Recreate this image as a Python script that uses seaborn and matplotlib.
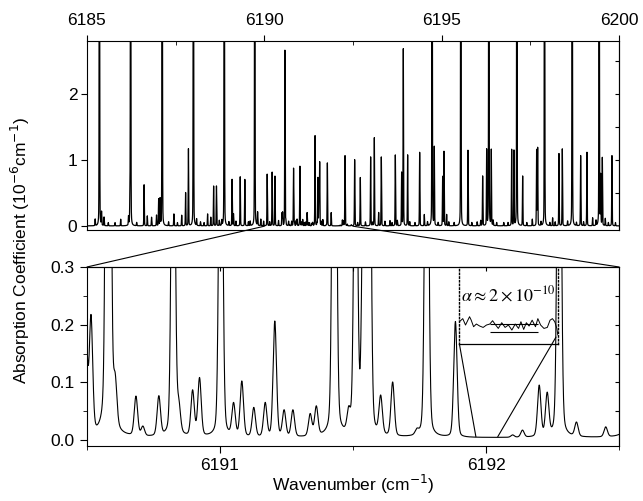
import numpy as np
import pandas as pd
import matplotlib
matplotlib.use("Agg")
import matplotlib.pyplot as plt
import seaborn as sns
from matplotlib.patches import ConnectionPatch
from matplotlib.ticker import MultipleLocator, FormatStrFormatter

sns.set_style("ticks")
plt.rcParams["font.family"] = ["Liberation Sans", "DejaVu Sans"]
plt.rcParams["axes.linewidth"] = 0.8
for key in ["text.color", "axes.labelcolor", "xtick.color", "ytick.color",
            "axes.edgecolor"]:
    plt.rcParams[key] = "black"

# ---- line list (positions in cm^-1, peak heights in 1e-6 cm^-1) ----
# strong band lines (saturate the upper panel)
strong_pos = [6185.35, 6186.23, 6187.12, 6188.00, 6188.87, 6189.73,
              6194.73, 6195.54, 6196.33, 6197.12, 6197.90, 6198.68, 6199.44]
strong_h = [8.0] * len(strong_pos)

# medium lines across the full scan
medium_pos = [6185.41, 6186.21, 6186.61, 6187.02, 6187.06, 6187.78, 6187.86,
              6188.57, 6188.65, 6189.09, 6189.32, 6189.45,
              6190.08, 6190.22, 6190.30, 6190.58, 6190.824, 6191.003,
              6191.43, 6191.51, 6191.54, 6191.56, 6191.777, 6192.275,
              6192.546, 6192.706, 6192.997, 6193.101, 6193.298, 6193.693,
              6193.871, 6193.918, 6194.040, 6194.379, 6194.792, 6195.027,
              6195.065, 6195.741, 6196.155, 6196.268, 6196.399, 6196.973,
              6197.038, 6197.283, 6197.677, 6197.706, 6198.307, 6198.401,
              6198.918, 6199.096, 6199.482, 6199.529, 6199.801]
medium_h = [0.20, 0.33, 0.62, 0.40, 0.40, 0.50, 1.16,
            0.60, 0.60, 0.70, 0.74, 0.70,
            0.78, 0.81, 0.75, 2.65, 0.87, 0.90,
            1.36, 0.72, 0.50, 0.95, 0.95, 1.06,
            1.00, 0.73, 1.04, 1.33, 1.04, 1.07,
            0.80, 2.67, 1.07, 1.11, 1.18, 0.74,
            1.12, 1.14, 0.75, 1.14, 1.14, 1.15,
            1.13, 0.75, 1.14, 1.17, 1.09, 1.16,
            1.06, 1.11, 0.74, 1.02, 1.06]

# weak lines
weak_pos = [6185.23, 6185.48, 6185.60, 6185.79, 6185.95, 6186.17, 6186.40,
            6186.70, 6186.82, 6186.96, 6187.30, 6187.45, 6187.55, 6187.67,
            6188.09, 6188.20, 6188.30, 6188.40, 6188.49, 6188.73, 6188.80,
            6189.00, 6189.13, 6189.20, 6189.55, 6189.60, 6189.81, 6189.90,
            6189.98, 6190.15, 6190.40,
            6190.495, 6190.515, 6190.606, 6190.684, 6190.710, 6190.770,
            6190.845, 6190.897, 6190.923, 6191.051, 6191.082, 6191.127,
            6191.170, 6191.206, 6191.241, 6191.274, 6191.339, 6191.362,
            6191.484, 6191.604, 6191.649, 6191.740, 6191.885, 6192.100,
            6192.137, 6192.200, 6192.230, 6192.340, 6192.450,
            6192.63, 6192.85, 6193.05, 6193.223, 6193.40, 6193.542, 6193.60,
            6193.75, 6194.10, 6194.247, 6194.510, 6194.60, 6194.90, 6195.140,
            6195.20, 6195.35, 6195.85, 6196.00, 6196.10, 6196.45, 6196.55,
            6196.75, 6196.87, 6197.40, 6197.555, 6197.80, 6198.05, 6198.128,
            6198.20, 6198.55, 6198.80, 6199.00, 6199.256, 6199.35, 6199.613,
            6199.70, 6199.90]
weak_h = [0.10, 0.13, 0.05, 0.05, 0.10, 0.13, 0.05,
          0.15, 0.13, 0.16, 0.06, 0.18, 0.05, 0.16,
          0.10, 0.06, 0.05, 0.18, 0.13, 0.08, 0.08,
          0.06, 0.18, 0.07, 0.06, 0.07, 0.20, 0.10,
          0.07, 0.06, 0.08,
          0.19, 0.20, 0.07, 0.068, 0.016, 0.068,
          0.045, 0.078, 0.10, 0.055, 0.095, 0.05,
          0.058, 0.20, 0.045, 0.046, 0.038, 0.05,
          0.035, 0.065, 0.093, 0.008, 0.20, 0.004,
          0.012, 0.088, 0.072, 0.024, 0.017,
          0.05, 0.06, 0.05, 0.20, 0.07, 0.08, 0.05,
          0.08, 0.06, 0.05, 0.17, 0.06, 0.05, 0.17,
          0.06, 0.05, 0.05, 0.06, 0.08, 0.08, 0.05,
          0.05, 0.05, 0.05, 0.10, 0.06, 0.05, 0.12,
          0.06, 0.07, 0.05, 0.06, 0.12, 0.08, 0.11,
          0.05, 0.05]

# residual baseline noise of the magnified segment (inset units)
noise_x = [0.0, 0.034, 0.062, 0.086, 0.103, 0.120, 0.144, 0.172, 0.206, 0.241,
           0.275, 0.309, 0.337, 0.361, 0.395, 0.430, 0.464, 0.498, 0.533, 0.567,
           0.601, 0.625, 0.653, 0.680, 0.708, 0.739, 0.773, 0.797, 0.825, 0.859,
           0.893, 0.921, 0.945, 0.969, 0.990, 1.0]
noise_y = [0.29, 0.33, 0.247, 0.31, 0.355, 0.31, 0.225, 0.26, 0.234, 0.216,
           0.247, 0.26, 0.303, 0.26, 0.203, 0.277, 0.216, 0.247, 0.182, 0.26,
           0.203, 0.29, 0.19, 0.277, 0.234, 0.31, 0.225, 0.33, 0.247, 0.203,
           0.216, 0.31, 0.33, 0.29, 0.203, 0.117]

top_ticks = [6185, 6190, 6195, 6200]
top_yticks = [0, 1, 2]
zoom_ticks = [6191, 6192]
zoom_yticks = [0.0, 0.1, 0.2, 0.3]
zoom_range = (6190.5, 6192.5)
noise_range = (6191.962, 6192.044)

pos = np.array(strong_pos + medium_pos + weak_pos)
amp = np.array(strong_h + medium_h + weak_h)
FWHM, ETA, BASE = 0.015, 0.2, 0.004


def spectrum(x):
    d = (x[:, None] - pos[None, :]) / FWHM
    prof = (1 - ETA) * np.exp(-4 * np.log(2) * d ** 2) + ETA / (1 + 4 * d ** 2)
    return BASE + prof @ amp


x_full = np.arange(6185.0, 6200.0005, 0.001)
x_zoom = np.arange(zoom_range[0], zoom_range[1] + 1e-6, 0.0005)
df_full = pd.DataFrame({"wn": x_full, "alpha": spectrum(x_full)})
df_zoom = pd.DataFrame({"wn": x_zoom, "alpha": spectrum(x_zoom)})

fig = plt.figure(figsize=(6.43, 5.01), dpi=100)
ax1 = fig.add_axes([0.1353, 0.5419, 0.8274, 0.3769])
ax2 = fig.add_axes([0.1353, 0.1098, 0.8274, 0.3573])

# ---- upper panel: full scan ----
sns.lineplot(data=df_full, x="wn", y="alpha", ax=ax1, color="black",
             lw=0.9, estimator=None, sort=False)
ax1.set_xlim(6185, 6200)
ax1.set_ylim(-0.05, 2.8)
ax1.set_xticks(top_ticks)
ax1.xaxis.set_minor_locator(MultipleLocator(2.5))
ax1.xaxis.tick_top()
ax1.tick_params(axis="x", which="major", direction="out", length=4, pad=5,
                labelsize=12.5, top=True, bottom=False, labeltop=True,
                labelbottom=False)
ax1.tick_params(axis="x", which="minor", direction="in", length=3,
                top=True, bottom=False)
ax1.set_yticks(top_yticks)
ax1.tick_params(axis="y", which="major", direction="out", length=4, pad=3,
                labelsize=12.5, right=False)
sec1 = ax1.secondary_yaxis("right")
sec1.set_yticks(np.arange(0.5, 2.8, 0.5))
sec1.tick_params(direction="in", length=3, labelright=False)
ax1.set_xlabel("")
ax1.set_ylabel("")

# ---- lower panel: magnified window ----
sns.lineplot(data=df_zoom, x="wn", y="alpha", ax=ax2, color="black",
             lw=0.8, estimator=None, sort=False)
ax2.set_xlim(*zoom_range)
ax2.set_ylim(-0.01, 0.3)
ax2.set_xticks(zoom_ticks)
ax2.xaxis.set_minor_locator(MultipleLocator(0.5))
ax2.set_yticks(zoom_yticks)
ax2.yaxis.set_minor_locator(MultipleLocator(0.05))
ax2.tick_params(which="major", direction="out", length=5, pad=4,
                labelsize=12.5, right=False, top=False)
ax2.tick_params(which="minor", direction="out", length=3, right=False,
                top=False)
ax2.yaxis.set_major_formatter(FormatStrFormatter("%.1f"))
sec2 = ax2.secondary_yaxis("right")
sec2.set_yticks(np.arange(0.05, 0.3, 0.05))
sec2.tick_params(direction="in", length=3, labelright=False)
sec2x = ax2.secondary_xaxis("top")
sec2x.set_xticks([6191.0, 6191.5, 6192.0])
sec2x.tick_params(direction="in", length=3, labeltop=False)
ax2.set_xlabel("")
ax2.set_ylabel("")

# connectors from the full scan to the magnified window
for xa, xb in [(6190.0, zoom_range[0]), (zoom_range[1], zoom_range[1])]:
    con = ConnectionPatch(xyA=(xa, 0.0), coordsA=ax1.transData,
                          xyB=(xb, 0.3), coordsB=ax2.transData,
                          color="black", lw=0.8)
    fig.add_artist(con)

# ---- inset showing the baseline noise ----
ix0, ix1, iy0, iy1 = 6191.90, 6192.27, 0.1665, 0.3
ax_in = ax2.inset_axes([ix0, iy0, ix1 - ix0, iy1 - iy0],
                       transform=ax2.transData)
ax_in.set_facecolor("none")
sns.lineplot(x=noise_x, y=noise_y, ax=ax_in, color="black", lw=0.7,
             estimator=None, sort=False)
ax_in.hlines([0.26, 0.16], 0.31, 0.80, color="black", lw=0.8)
ax_in.set_xlim(0, 1)
ax_in.set_ylim(0, 1)
ax_in.set_xticks([])
ax_in.set_yticks([])
for side in ["left", "right"]:
    ax_in.spines[side].set_linestyle(":")
    ax_in.spines[side].set_linewidth(1.0)
ax_in.spines["bottom"].set_linewidth(0.9)
ax_in.text(0.5, 0.636, r"$\alpha \approx 2\times10^{-10}$",
           math_fontfamily="stix", fontsize=13, ha="center", va="center",
           transform=ax_in.transAxes)
ax2.plot([ix0, noise_range[0]], [iy0, 0.0059], color="black", lw=0.8)
ax2.plot([ix1 - 0.007, noise_range[1]], [0.1786, 0.0059], color="black",
         lw=0.8)

fig.text(20 / 643, 1 - 250 / 501,
         r"Absorption Coefficient (10$^{-6}$cm$^{-1}$)",
         rotation=90, ha="center", va="center", fontsize=12.5)
fig.text(353 / 643, 1 - 484 / 501, r"Wavenumber (cm$^{-1}$)",
         ha="center", va="center", fontsize=12.5)

fig.savefig("out.png", dpi=100)
